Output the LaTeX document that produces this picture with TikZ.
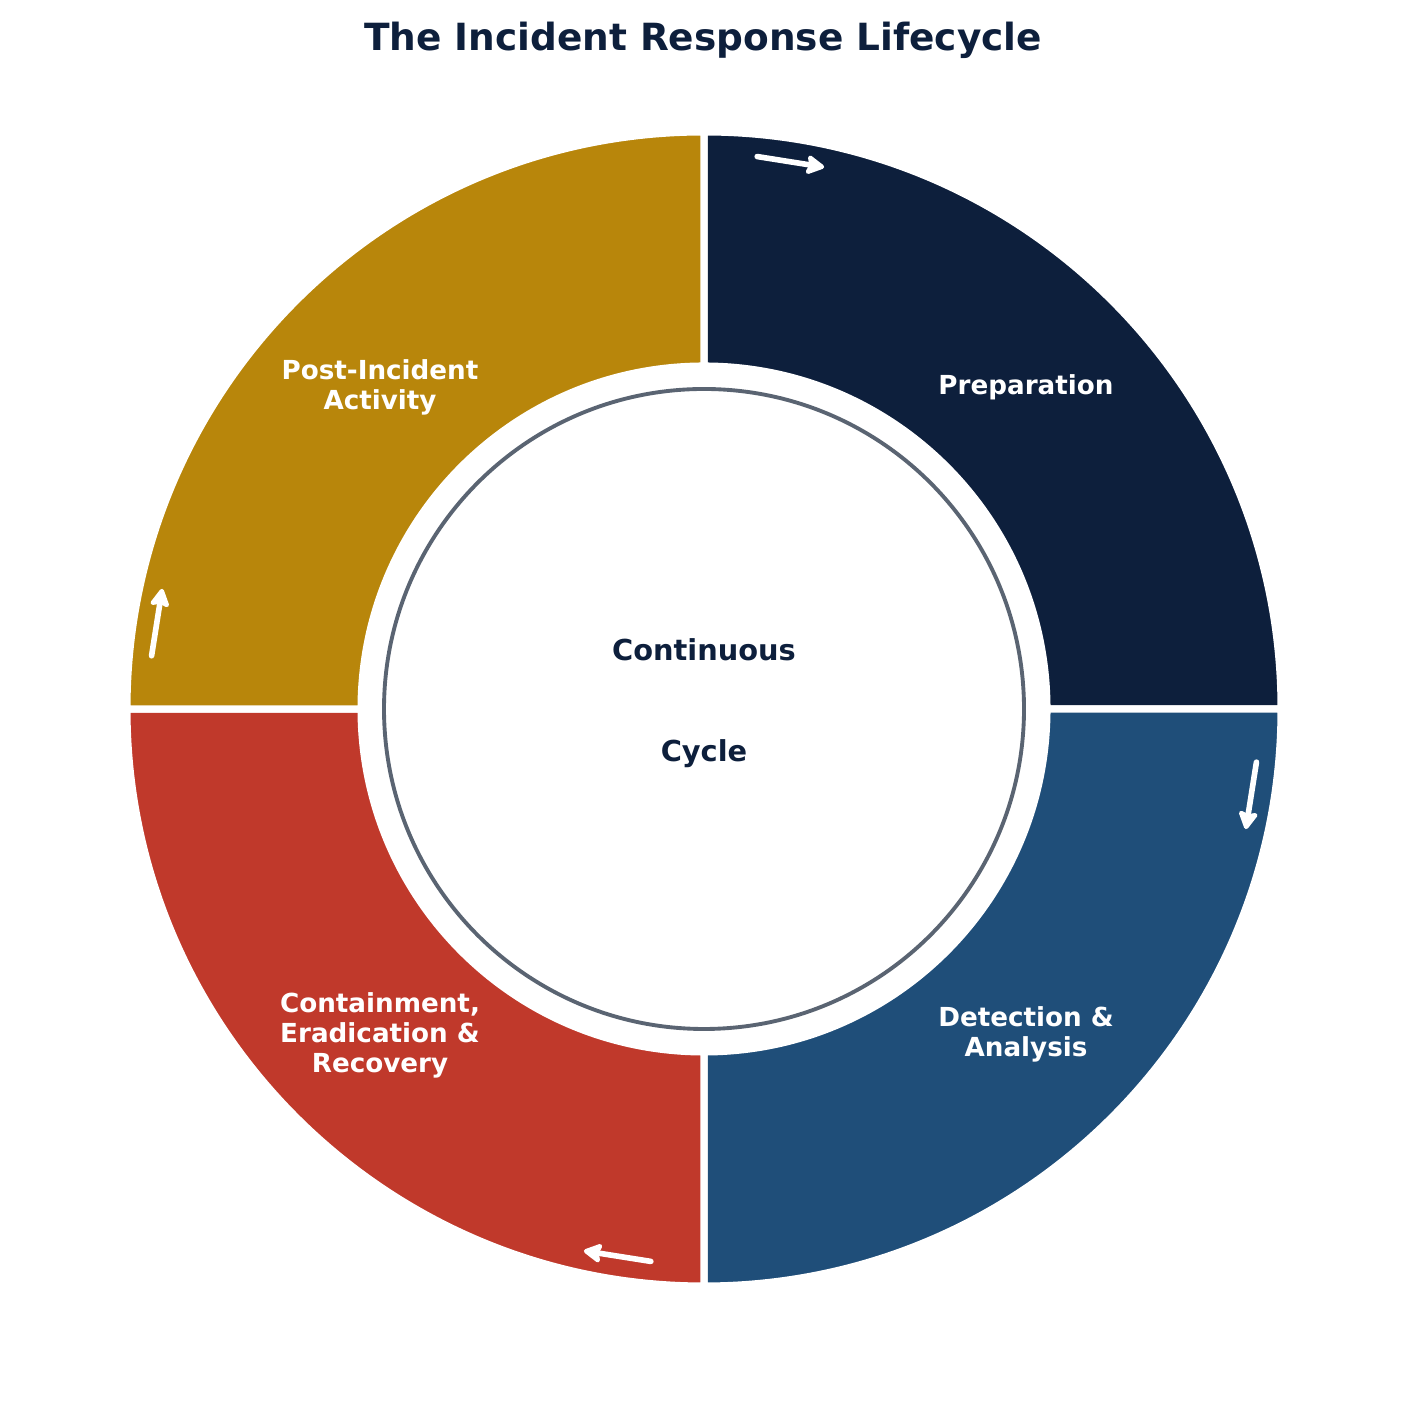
\documentclass[tikz,border=0pt]{standalone}
\usepackage{fontspec}
\setmainfont{DejaVu Sans}
\usepackage{tikz}
\usetikzlibrary{arrows.meta}

\definecolor{navy}{HTML}{0D1F3C}
\definecolor{steel}{HTML}{1F4E79}
\definecolor{brick}{HTML}{C0392B}
\definecolor{gold}{HTML}{B8860B}
\definecolor{rim}{HTML}{5A6472}

\begin{document}
\begin{tikzpicture}[x=0.01cm,y=0.01cm,
    phase/.style={draw=white,line width=2pt},
    phaselabel/.style={text=white,font=\fontsize{7.45}{8.5}\selectfont\bfseries,align=center},
    flow/.style={white,line width=1.6pt,line cap=round,-{Stealth[length=6pt,width=6.4pt,inset=1pt,round]}}]

\useasboundingbox (0,0) rectangle (1407,1413);

% Title
\node[text=navy,font=\fontsize{10.65}{12}\selectfont\bfseries] (title) at (703,1373) {The Incident Response Lifecycle};

\begin{scope}[shift={(704,704)}]

% Ring segments
\draw[phase,fill=navy]  (90:577) arc (90:0:577) -- (0:343) arc (0:90:343) -- cycle;
\draw[phase,fill=steel] (0:577) arc (0:-90:577) -- (-90:343) arc (-90:0:343) -- cycle;
\draw[phase,fill=brick] (-90:577) arc (-90:-180:577) -- (-180:343) arc (-180:-90:343) -- cycle;
\draw[phase,fill=gold]  (180:577) arc (180:90:577) -- (90:343) arc (90:180:343) -- cycle;

% Inner circle
\draw[rim,line width=1.1pt,fill=white] (0,0) circle (320);

% Flow arrows
\foreach \a in {90,0,-90,180}{
  \coordinate (from\a) at (\a-5.5:555);
  \coordinate (to\a) at (\a-12.5:555);
  \draw[flow] (from\a) -- (to\a);
}

% Phase labels
\node[phaselabel] (prep) at (322,322) {Preparation};
\node[phaselabel] (detect) at (322,-325) {Detection \&\\Analysis};
\node[phaselabel] (contain) at (-324,-326) {Containment,\\Eradication \&\\Recovery};
\node[phaselabel] (post) at (-324,322) {Post-Incident\\Activity};

% Centre text
\node[text=navy,font=\fontsize{8.2}{9}\selectfont\bfseries] (cont) at (0,59) {Continuous};
\node[text=navy,font=\fontsize{8.2}{9}\selectfont\bfseries] (cycle) at (0,-45) {Cycle};

\end{scope}

\end{tikzpicture}
\end{document}
